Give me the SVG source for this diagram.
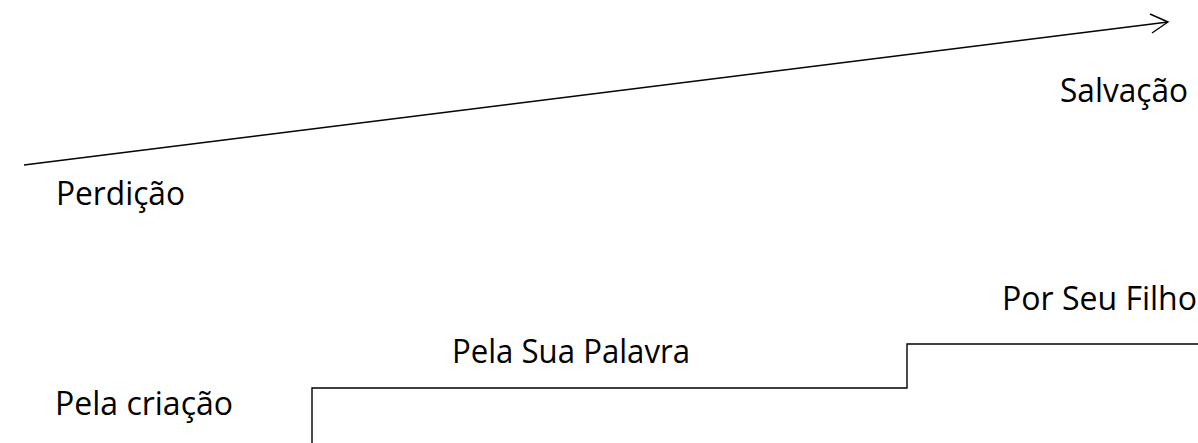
<svg xmlns="http://www.w3.org/2000/svg" width="1198" height="443" viewBox="0 0 1198 443">
<style>
text{font-family:"Open Sans","Noto Sans","DejaVu Sans",sans-serif;font-size:32px;fill:#000}
.ln{stroke:#000;stroke-width:1.4;fill:none}
</style>
<rect width="1198" height="443" fill="#fff"/>
<g id="connectors">
<line class="ln" x1="24" y1="165" x2="1168" y2="22"/>
<polyline class="ln" points="1150,14 1168,22 1152,33"/>
<polyline class="ln" points="312,443 312,388 907,388 907,344 1198,344"/>
</g>
<g id="salvacao"><text x="1060" y="102" textLength="128" lengthAdjust="spacingAndGlyphs">Salvação</text></g>
<g id="perdicao"><text x="56" y="205" textLength="129" lengthAdjust="spacingAndGlyphs">Perdição</text></g>
<g id="por-seu-filho"><text x="1002" y="310" textLength="195" lengthAdjust="spacingAndGlyphs">Por Seu Filho</text></g>
<g id="pela-sua-palavra"><text x="452" y="363" textLength="238" lengthAdjust="spacingAndGlyphs">Pela Sua Palavra</text></g>
<g id="pela-criacao"><text x="55" y="415" textLength="178" lengthAdjust="spacingAndGlyphs">Pela criação</text></g>
</svg>
